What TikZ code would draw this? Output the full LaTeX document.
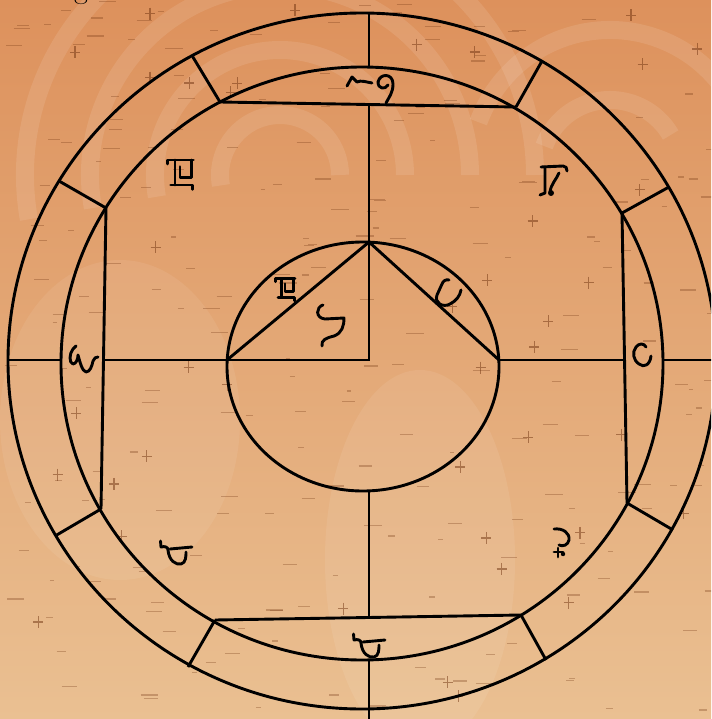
\documentclass[tikz,border=0pt]{standalone}
\usetikzlibrary{calc}
\definecolor{parchdark}{RGB}{221,145,92}
\definecolor{parchlight}{RGB}{234,192,146}
\definecolor{grainbrown}{RGB}{110,50,15}

\tikzset{
  boxglyph/.pic={
    \draw[glyph] (-12.7,-11) -- (-12.7,-15) -- (13.3,-15);
    \draw[glyph] (-5,-15) -- (-5,10);
    \draw[glyph] (0,-8.3) -- (0,2.3) -- (11.7,2.3) -- (11.7,-15);
    \draw[glyph] (-9.3,10) -- (12.7,10) -- (12.7,14.3);
  },
  hookglyph/.pic={
    \draw[glyph] (-15.5,-12) -- (-15,-6) .. controls (-11,-7) and (-8,-6) .. (-8,-3)
      .. controls (-7,8) and (0,12) .. (5,11) .. controls (10,10) and (10,3) .. (10,-1);
    \draw[glyph] (-6,-4) -- (16,-6);
  }
}

\begin{document}
\begin{tikzpicture}[x=1pt, y=-1pt,
    chart/.style={line width=2.9pt},
    glyph/.style={line width=2.9pt, line cap=round, line join=round},
    grain/.style={grainbrown, opacity=0.3, line width=1.2pt},
    swirl/.style={white, opacity=0.10, line width=18pt}
  ]
  \useasboundingbox (0,0) rectangle (711,719);
  \clip (0,0) rectangle (711,719);

  % parchment
  \shade[top color=parchdark, bottom color=parchlight] (0,0) rectangle (711,719);
  \foreach \r in {60,125,190,255}
    \draw[swirl] ($(280,175)+(170:\r)$) arc[start angle=170, end angle=360, radius=\r];
  \foreach \r in {70,140}
    \draw[swirl] ($(610,170)+(200:\r)$) arc[start angle=200, end angle=330, radius=\r];
  \fill[white, opacity=0.08] (420,560) ellipse[x radius=95, y radius=190];
  \fill[white, opacity=0.07] (120,420) ellipse[x radius=120, y radius=160];
  \pgfmathsetseed{42}
  \foreach \k in {1,...,220}{
    \pgfmathsetmacro\gx{711*rnd}
    \pgfmathsetmacro\gy{719*rnd}
    \pgfmathsetmacro\gl{4+14*rnd}
    \draw[grain] (\gx,\gy) -- ++(\gl,0);
  }
  \foreach \k in {1,...,40}{
    \pgfmathsetmacro\gx{711*rnd}
    \pgfmathsetmacro\gy{719*rnd}
    \draw[grain, opacity=0.5] (\gx-5,\gy) -- (\gx+5,\gy) (\gx,\gy-6) -- (\gx,\gy+6);
  }

  % cut-off letter above the chart
  \node[font=\fontsize{30}{30}\selectfont, anchor=base, inner sep=0pt] (gtop) at (81,-1) {g};

  % rings
  \coordinate (O) at (362,361);
  \coordinate (M) at (362,363.5);
  \coordinate (I) at (363,366.5);
  \draw[chart] (O) ellipse[x radius=354, y radius=348];
  \draw[chart] (M) ellipse[x radius=301, y radius=296.5];
  \draw[chart] (I) ellipse[x radius=136, y radius=124.5];

  % house corners and tick ends
  \coordinate (tl) at (220,102);   \coordinate (tlo) at (192.7,56.7);
  \coordinate (tr) at (516,107);   \coordinate (tro) at (542,61);
  \coordinate (rt) at (622,213);   \coordinate (rto) at (669,187);
  \coordinate (rb) at (627,503);   \coordinate (rbo) at (673,530);
  \coordinate (br) at (521,615);   \coordinate (bro) at (546,660);
  \coordinate (bl) at (215,620);   \coordinate (blo) at (188,667);
  \coordinate (lb) at (101,509);   \coordinate (lbo) at (56.7,535);
  \coordinate (lt) at (106,208);   \coordinate (lto) at (59,181);

  \draw[chart] (tl) -- (tr);
  \draw[chart] (rt) -- (rb);
  \draw[chart] (br) -- (bl);
  \draw[chart] (lb) -- (lt);
  \foreach \c in {tl,tr,rt,rb,br,bl,lb,lt}
    \draw[chart] (\c) -- (\c o);

  % cross and triangle
  \coordinate (ntop) at (369,13);    \coordinate (mtop) at (369,67);
  \coordinate (ctop) at (369,104.5); \coordinate (apex) at (369,242);
  \coordinate (ctr) at (369,360);
  \coordinate (ileft) at (227,360);  \coordinate (iright) at (499,360);
  \coordinate (cleft) at (103.5,360);\coordinate (cright) at (624.5,360);
  \coordinate (mleft) at (61,360);   \coordinate (mright) at (663,360);
  \coordinate (oleft) at (8,360);    \coordinate (oright) at (716,360);
  \coordinate (ibot) at (369,491);   \coordinate (cbot) at (369,617.5);
  \coordinate (mbot) at (369,660);   \coordinate (obot) at (369,725);

  \draw[chart] (ntop) -- (mtop);
  \draw[chart] (ctop) -- (apex) -- (ctr) -- (cleft);
  \draw[chart] (oleft) -- (mleft);
  \draw[chart] (iright) -- (cright);
  \draw[chart] (mright) -- (oright);
  \draw[chart] (ibot) -- (cbot);
  \draw[chart] (mbot) -- (obot);
  \draw[chart] (ileft) -- (apex) -- (iright);

  % glyphs
  \draw[glyph] (347,86) -- (352,77) -- (357,82) .. controls (361,80) and (366,82) .. (372,83);
  \draw[glyph] (378,82) .. controls (380,73) and (393,73) .. (393,84)
    .. controls (393,93) and (389,97) .. (386,103);
  \draw[glyph] (378,82) .. controls (378,89) and (385,90) .. (388,85);

  \pic at (180,175) {boxglyph};
  \pic[scale=0.75] at (285,290) {boxglyph};

  \draw[glyph] (541,167) -- (563,166) .. controls (566,166) and (567,168) .. (567,171);
  \draw[glyph] (545,167) -- (545,193) -- (540,195);
  \draw[glyph] (559,173) .. controls (556,180) and (551,184) .. (550,192);
  \fill (551,193) circle[radius=3];

  \draw[glyph] (323,305) .. controls (316,307) and (315,318) .. (325,319) -- (344,318)
    .. controls (344,326) and (342,333) .. (334,336) .. controls (326,338) and (321,340) .. (322,346);

  \draw[glyph] (449,280) .. controls (446,279) and (443,281) .. (442,284) -- (437,295)
    .. controls (434,303) and (443,308) .. (450,304) .. controls (456,301) and (460,296) .. (461,290);

  \draw[glyph] (76,346) -- (73,349) .. controls (69,354) and (69,363) .. (73,364)
    .. controls (76,364) and (78,359) .. (78,355) .. controls (80,362) and (82,371) .. (86,372)
    .. controls (90,372) and (92,366) .. (93,361) .. controls (94,358) and (96,357) .. (98,357);

  \draw[glyph] (646,347) .. controls (644,343) and (639,343) .. (636,347)
    .. controls (632,352) and (633,360) .. (639,364) .. controls (644,368) and (650,365) .. (651,356);

  \pic at (176,553) {hookglyph};
  \pic at (369,646) {hookglyph};

  \draw[glyph] (554,529) .. controls (563,528) and (570,533) .. (569,540)
    .. controls (568,545) and (563,547) .. (559,545);
  \draw[glyph] (554,552) -- (563,552) (558,548) -- (558,557);
  \fill (563,554) circle[radius=2.2];
\end{tikzpicture}
\end{document}
